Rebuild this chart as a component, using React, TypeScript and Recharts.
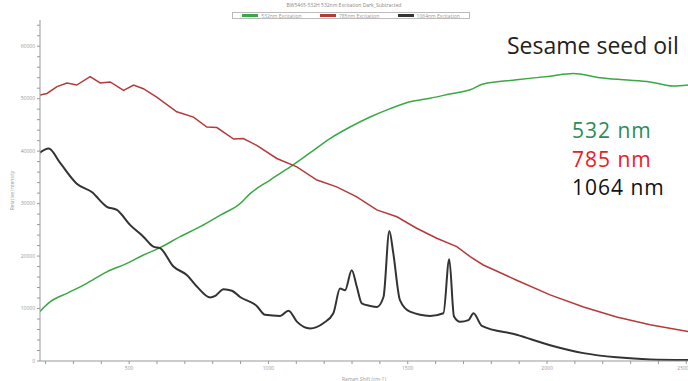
import { LineChart, Line, XAxis, YAxis, Label } from "recharts";

// Raman shift (cm-1) / relative intensity
const green532 = [
  { x: 179, y: 9400 }, { x: 217, y: 11300 }, { x: 277, y: 12900 }, { x: 348, y: 14800 },
  { x: 420, y: 17000 }, { x: 492, y: 18600 }, { x: 551, y: 20200 }, { x: 611, y: 21600 },
  { x: 683, y: 23700 }, { x: 755, y: 25600 }, { x: 827, y: 27800 }, { x: 898, y: 30000 },
  { x: 934, y: 31900 }, { x: 1006, y: 34500 }, { x: 1078, y: 37000 }, { x: 1150, y: 39700 },
  { x: 1221, y: 42400 }, { x: 1293, y: 44600 }, { x: 1365, y: 46500 }, { x: 1437, y: 48100 },
  { x: 1508, y: 49400 }, { x: 1580, y: 50100 }, { x: 1652, y: 50900 }, { x: 1724, y: 51700 },
  { x: 1771, y: 52800 }, { x: 1891, y: 53600 }, { x: 2011, y: 54300 }, { x: 2094, y: 54800 },
  { x: 2190, y: 54000 }, { x: 2274, y: 53600 }, { x: 2370, y: 53200 }, { x: 2453, y: 52400 },
  { x: 2506, y: 52600 },
];

const red785 = [
  { x: 179, y: 50700 }, { x: 205, y: 51000 }, { x: 241, y: 52300 }, { x: 277, y: 53000 },
  { x: 312, y: 52600 }, { x: 360, y: 54200 }, { x: 396, y: 53000 }, { x: 432, y: 53200 },
  { x: 480, y: 51600 }, { x: 516, y: 52600 }, { x: 551, y: 51900 }, { x: 599, y: 50300 },
  { x: 671, y: 47500 }, { x: 731, y: 46500 }, { x: 779, y: 44600 }, { x: 815, y: 44500 },
  { x: 875, y: 42300 }, { x: 910, y: 42400 }, { x: 958, y: 41100 }, { x: 1030, y: 38600 },
  { x: 1102, y: 37000 }, { x: 1174, y: 34500 }, { x: 1245, y: 33200 }, { x: 1317, y: 31300 },
  { x: 1389, y: 28800 }, { x: 1461, y: 27500 }, { x: 1532, y: 25300 }, { x: 1604, y: 23400 },
  { x: 1676, y: 21800 }, { x: 1724, y: 19900 }, { x: 1771, y: 18300 }, { x: 1891, y: 15400 },
  { x: 2011, y: 12600 }, { x: 2131, y: 10300 }, { x: 2250, y: 8400 }, { x: 2370, y: 6900 },
  { x: 2506, y: 5600 },
];

const black1064 = [
  { x: 179, y: 39700 }, { x: 211, y: 40500 }, { x: 253, y: 37700 }, { x: 312, y: 33800 },
  { x: 366, y: 32200 }, { x: 420, y: 29400 }, { x: 456, y: 28800 }, { x: 504, y: 25900 },
  { x: 551, y: 23700 }, { x: 587, y: 21800 }, { x: 611, y: 21500 }, { x: 659, y: 18000 },
  { x: 707, y: 16400 }, { x: 743, y: 14200 }, { x: 791, y: 12100 }, { x: 809, y: 12400 },
  { x: 839, y: 13700 }, { x: 869, y: 13400 }, { x: 898, y: 12200 }, { x: 958, y: 10500 },
  { x: 988, y: 8800 }, { x: 1042, y: 8600 }, { x: 1072, y: 9600 }, { x: 1102, y: 7500 },
  { x: 1150, y: 6200 }, { x: 1197, y: 7200 }, { x: 1233, y: 9100 }, { x: 1257, y: 13800 },
  { x: 1275, y: 13500 }, { x: 1299, y: 17300 }, { x: 1317, y: 14200 }, { x: 1335, y: 11000 },
  { x: 1365, y: 10500 }, { x: 1389, y: 10300 }, { x: 1413, y: 12200 }, { x: 1434, y: 24800 },
  { x: 1448, y: 20600 }, { x: 1472, y: 11600 }, { x: 1508, y: 9400 }, { x: 1580, y: 8600 },
  { x: 1628, y: 9100 }, { x: 1649, y: 19400 }, { x: 1666, y: 8500 }, { x: 1688, y: 7500 },
  { x: 1718, y: 7800 }, { x: 1736, y: 9100 }, { x: 1766, y: 6700 }, { x: 1891, y: 5000 },
  { x: 2011, y: 3000 }, { x: 2131, y: 1500 }, { x: 2250, y: 700 }, { x: 2370, y: 300 },
  { x: 2506, y: 200 },
];

const xTicks = [200, 300, 400, 500, 600, 700, 800, 900, 1000, 1100, 1200, 1300, 1400, 1500, 1600, 1700, 1800, 1900, 2000, 2100, 2200, 2300, 2400, 2500];
const yTicks = [0, 2000, 4000, 6000, 8000, 10000, 12000, 14000, 16000, 18000, 20000, 22000, 24000, 26000, 28000, 30000, 32000, 34000, 36000, 38000, 40000, 42000, 44000, 46000, 48000, 50000, 52000, 54000, 56000, 58000, 60000, 62000, 64000];

const legendItems = [
  { name: "532nm Excitation", color: "#3aa845" },
  { name: "785nm Excitation", color: "#b43a3a" },
  { name: "1064nm Excitation", color: "#333333" },
];

const notes = [
  { text: "532 nm", color: "#2e8b57" },
  { text: "785 nm", color: "#e8202a" },
  { text: "1064 nm", color: "#111111" },
];

const tickStyle = { fontSize: 5, fill: "#999" };

export default function App() {
  return (
    <div style={{ position: "absolute", left: 0, top: 0, width: 688, height: 381, background: "#fff", fontFamily: "'Open Sans', sans-serif" }}>
      <LineChart width={688} height={381} margin={{ top: 20, right: 0, bottom: 0, left: 10 }}>
        <XAxis
          type="number"
          dataKey="x"
          domain={[180, 2506]}
          ticks={xTicks}
          allowDataOverflow
          height={20}
          tickSize={3}
          stroke="#999"
          tick={tickStyle}
          tickFormatter={(v: number) => (v % 500 === 0 ? String(v) : "")}
        >
          <Label value="Raman Shift (cm-1)" position="insideBottom" offset={0} style={{ fontSize: 5, fill: "#999" }} />
        </XAxis>
        <XAxis
          xAxisId="top"
          orientation="top"
          type="number"
          dataKey="x"
          domain={[180, 2506]}
          ticks={xTicks}
          allowDataOverflow
          height={0}
          mirror
          tickSize={3}
          stroke="#bbb"
          tick={false}
        />
        <YAxis
          type="number"
          domain={[0, 65000]}
          ticks={yTicks}
          width={30}
          tickSize={3}
          stroke="#999"
          tick={tickStyle}
          tickFormatter={(v: number) => (v % 10000 === 0 ? String(v) : "")}
        >
          <Label value="Relative Intensity" angle={-90} position="insideLeft" offset={2} style={{ fontSize: 5, fill: "#999", textAnchor: "middle" }} />
        </YAxis>
        <Line data={green532} dataKey="y" type="monotone" stroke="#3aa845" strokeWidth={1.5} dot={false} isAnimationActive={false} />
        <Line data={red785} dataKey="y" type="linear" stroke="#b43a3a" strokeWidth={1.5} dot={false} isAnimationActive={false} />
        <Line data={black1064} dataKey="y" type="monotone" stroke="#333333" strokeWidth={2} dot={false} isAnimationActive={false} />
      </LineChart>

      <div style={{ position: "absolute", left: 0, width: 688, top: 2, textAlign: "center", fontSize: 5, color: "#888" }}>
        BW5465-532H 532nm Excitation Dark_Subtracted
      </div>
      <div style={{ position: "absolute", left: 232, top: 12, width: 238, height: 7, border: "1px solid #bbb", display: "flex", alignItems: "center", justifyContent: "space-around", fontSize: 5, color: "#999", boxSizing: "border-box" }}>
        {legendItems.map((it) => (
          <span key={it.name} style={{ display: "flex", alignItems: "center" }}>
            <span style={{ display: "inline-block", width: 16, height: 3, background: it.color, marginRight: 3 }} />
            {it.name}
          </span>
        ))}
      </div>

      <div style={{ position: "absolute", left: 507, top: 30, fontSize: 23, color: "#222", lineHeight: "30px" }}>Sesame seed oil</div>
      {notes.map((n, i) => (
        <div
          key={n.text}
          style={{ position: "absolute", left: 572, top: 116 + i * 28.6, fontSize: 21, lineHeight: "28px", letterSpacing: 1, color: n.color }}
        >
          {n.text}
        </div>
      ))}
    </div>
  );
}
